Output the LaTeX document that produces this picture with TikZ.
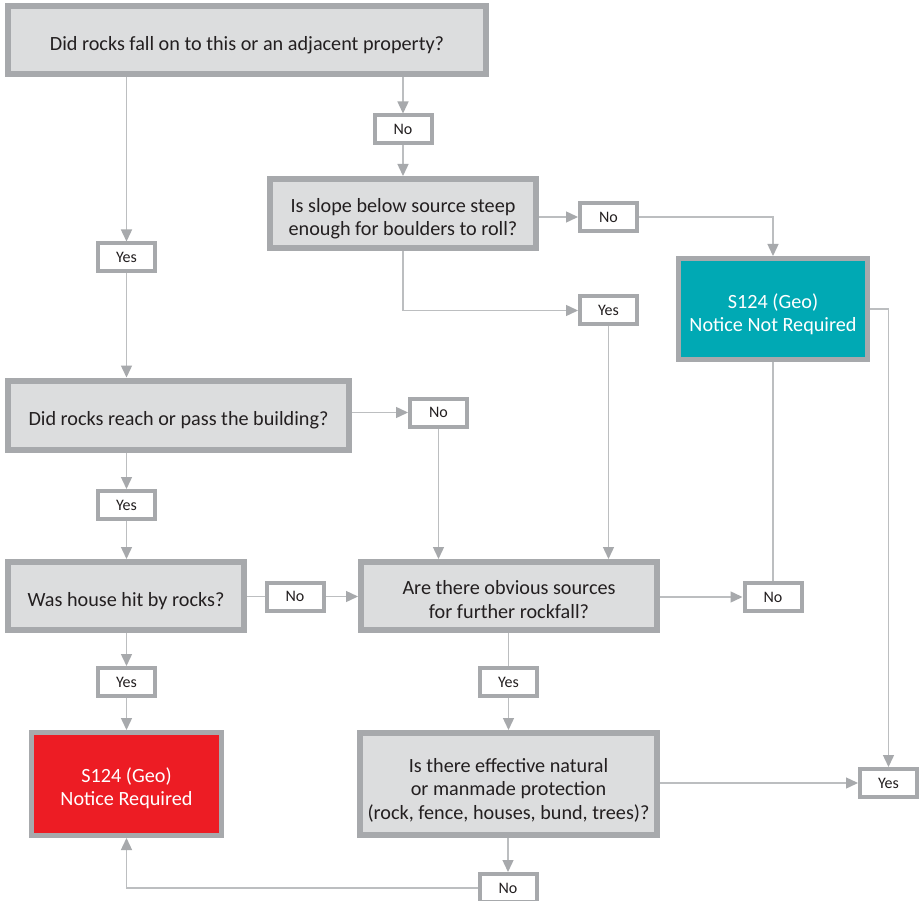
\documentclass[tikz,border=0pt]{standalone}
\usepackage{fontspec}
\setmainfont{Carlito}
\usetikzlibrary{arrows.meta}

\definecolor{boxgray}{HTML}{DCDDDE}
\definecolor{edgegray}{HTML}{A7A9AC}
\definecolor{wiregray}{HTML}{BCBEC0}
\definecolor{tealfill}{HTML}{00A9B4}
\definecolor{redfill}{HTML}{ED1C24}
\definecolor{inkgray}{HTML}{231F20}

\begin{document}
\begin{tikzpicture}[x=1pt,y=-1pt,
  % an invisible strut of the given height lowers the text block a little
  rise/.style={execute at begin node={\rule{0pt}{#1}}},
  boxtext/.style={font=\fontsize{20.2}{23.5}\selectfont, align=center, inner sep=0pt,
    text depth=0pt},
  question/.style={boxtext, draw=edgegray, line width=6pt, fill=boxgray, text=inkgray},
  outcome/.style={boxtext, draw=edgegray, line width=5pt, text=white},
  answer/.style={draw=edgegray, line width=4pt, fill=white, text=inkgray,
    font=\fontsize{16}{18}\selectfont, inner sep=0pt,
    minimum width=57pt, minimum height=28pt},
  wire/.style={draw=wiregray, line width=1.4pt},
  arr/.style={wire, -{Triangle[length=12pt, width=11pt, color=edgegray]}}
]
\useasboundingbox (0,0) rectangle (921,901);
\clip (0,0) rectangle (921,901);
\fill[white] (0,0) rectangle (921,901);

% questions
\node[question, rise=21pt, minimum width=478pt, minimum height=68pt] (q1) at (247,40)
  {Did rocks fall on to this or an adjacent property?};
\node[question, rise=44.5pt, minimum width=266pt, minimum height=69pt] (q2) at (403,213.5)
  {Is slope below source steep\\enough for boulders to roll?};
\node[question, rise=21pt, minimum width=341pt, minimum height=69pt] (q3) at (178.5,415)
  {Did rocks reach or pass the building?};
\node[question, rise=21pt, minimum width=236pt, minimum height=68pt] (q4) at (126,596)
  {Was house hit by rocks?};
\node[question, rise=44.5pt, minimum width=296pt, minimum height=68pt] (q5) at (509,596)
  {Are there obvious sources\\for further rockfall?};
\node[question, rise=70pt, minimum width=297pt, minimum height=102pt] (q6) at (508.5,784)
  {Is there effective natural\\or manmade protection\\(rock, fence, houses, bund, trees)?};

% outcomes
\node[outcome, rise=45.3pt, fill=tealfill, minimum width=189pt, minimum height=101pt] (nr) at (773,309)
  {S124 (Geo)\\Notice Not Required};
\node[outcome, rise=43.5pt, fill=redfill, minimum width=190pt, minimum height=103pt] (req) at (126.5,784)
  {S124 (Geo)\\Notice Required};

% answers
\node[answer] (no1) at (403,129.5) {No};
\node[answer] (no2) at (608.5,217) {No};
\node[answer] (yes2) at (608.5,310.5) {Yes};
\node[answer] (yes1) at (126.5,257.5) {Yes};
\node[answer] (no3) at (438.5,412.5) {No};
\node[answer] (yes3) at (126.5,505) {Yes};
\node[answer] (no4) at (295,596.5) {No};
\node[answer] (no5) at (773,597) {No};
\node[answer] (yes5) at (508.5,682) {Yes};
\node[answer] (yes4) at (126.5,682) {Yes};
\node[answer] (yes6) at (888.5,783) {Yes};
\node[answer] (no6) at (508,888) {No};

% connectors
\draw[arr] (q1.south -| yes1) -- (yes1.north);
\draw[arr] (yes1.south) -- (yes1.south |- q3.north);
\draw[arr] (q1.south -| no1) -- (no1.north);
\draw[arr] (no1.south) -- (no1.south |- q2.north);
\draw[arr] (q2.east |- no2) -- (no2.west);
\draw[arr] (no2.east) -| (nr.north);
\draw[arr] (q2.south) |- (yes2.west);
\draw[arr] (yes2.south) -- (yes2.south |- q5.north);
\draw[arr] (nr.east) -| (yes6.north);
\draw[wire] (nr.south) -- (no5.north);
\draw[arr] (q5.east |- no5) -- (no5.west);
\draw[arr] (q3.east |- no3) -- (no3.west);
\draw[arr] (no3.south) -- (no3.south |- q5.north);
\draw[arr] (q3.south -| yes3) -- (yes3.north);
\draw[arr] (yes3.south) -- (yes3.south |- q4.north);
\draw[wire] (q4.east |- no4) -- (no4.west);
\draw[arr] (no4.east) -- (no4.east -| q5.west);
\draw[arr] (q4.south -| yes4) -- (yes4.north);
\draw[arr] (yes4.south) -- (yes4.south |- req.north);
\draw[wire] (q5.south -| yes5) -- (yes5.north);
\draw[arr] (yes5.south) -- (yes5.south |- q6.north);
\draw[arr] (q6.east |- yes6) -- (yes6.west);
\draw[arr] (q6.south -| no6) -- (no6.north);
\draw[arr] (no6.west) -| (req.south);
\end{tikzpicture}
\end{document}
